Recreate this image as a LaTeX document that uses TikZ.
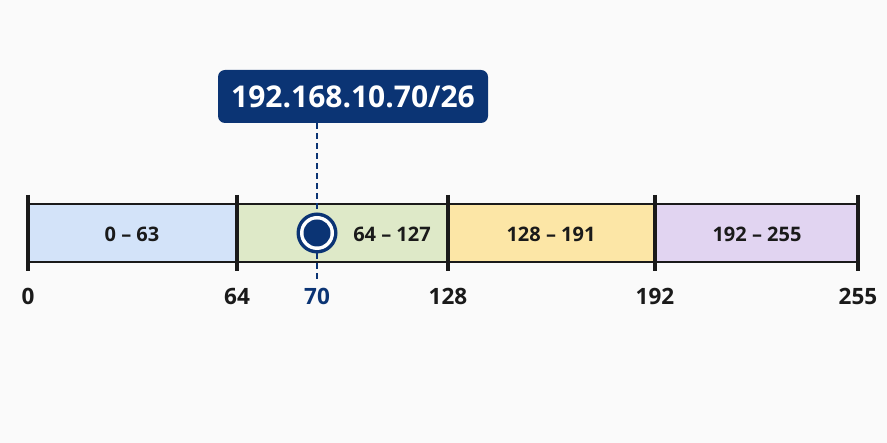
\documentclass[tikz,border=0pt]{standalone}
\usepackage{fontspec}
\setmainfont{Open Sans}
\definecolor{navy}{HTML}{0B3474}
\definecolor{bgc}{HTML}{FAFAFA}
\definecolor{segA}{HTML}{D3E3F9}
\definecolor{segB}{HTML}{DEE9C8}
\definecolor{segC}{HTML}{FCE6A6}
\definecolor{segD}{HTML}{E1D4F1}
\definecolor{inkc}{HTML}{1A1A1A}
\tikzset{
  seg/.style={draw=inkc, line width=1.3pt, inner sep=0pt},
  tickl/.style={draw=inkc, line width=3.5pt},
  seglabel/.style={font=\bfseries\fontsize{20}{22}\selectfont, text=inkc},
  ticklabel/.style={font=\bfseries\fontsize{22.5}{24}\selectfont, text=inkc, anchor=center},
}
\begin{document}
\begin{tikzpicture}[x=1pt,y=-1pt]
\fill[bgc] (0,0) rectangle (887,443);
\useasboundingbox (0,0) rectangle (887,443);
% segments
\filldraw[seg, fill=segA] (28,204) rectangle (237,262);
\filldraw[seg, fill=segB] (237,204) rectangle (448,262);
\filldraw[seg, fill=segC] (448,204) rectangle (655,262);
\filldraw[seg, fill=segD] (655,204) rectangle (858,262);
\node[seglabel] (la) at (132,234) {0 – 63};
\node[seglabel] (lb) at (392,234) {64 – 127};
\node[seglabel] (lc) at (551,234) {128 – 191};
\node[seglabel] (ld) at (757,234) {192 – 255};
% ticks
\foreach \x/\n in {28/t0,237/t64,448/t128,655/t192,858/t255}{
  \coordinate (\n top) at (\x,195);
  \coordinate (\n bot) at (\x,271);
  \draw[tickl] (\n top) -- (\n bot);
}
\node[ticklabel] (n0) at (28,296) {0};
\node[ticklabel] (n64) at (237,296) {64};
\node[ticklabel, text=navy] (n70) at (317,296) {70};
\node[ticklabel] (n128) at (448,296) {128};
\node[ticklabel] (n192) at (655,296) {192};
\node[ticklabel] (n255) at (858,296) {255};
% callout
\node[fill=navy, rounded corners=7pt, minimum width=270pt, minimum height=53pt, inner sep=0pt,
  text=white, font=\bfseries\fontsize{30}{32}\selectfont] (ip) at (353,96.5) {192.168.10.70/26};
\coordinate (dashend) at (317,281);
\draw[navy, line width=2.6pt, dash pattern=on 6pt off 4pt] (ip.south -| dashend) -- (dashend);
% marker
\node[circle, fill=navy, minimum size=41pt, inner sep=0pt] (mk) at (317,233) {};
\node[circle, fill=white, minimum size=34pt, inner sep=0pt] at (mk) {};
\node[circle, fill=navy, minimum size=27pt, inner sep=0pt] at (mk) {};
\end{tikzpicture}
\end{document}
